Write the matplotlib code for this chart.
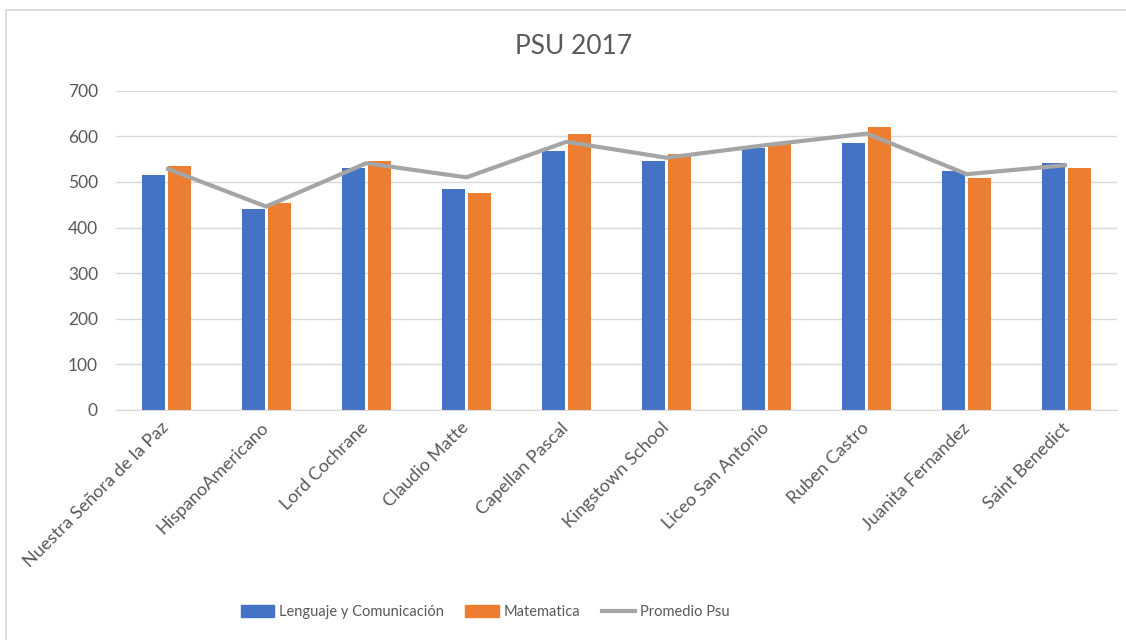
import numpy as np
import matplotlib.pyplot as plt
from matplotlib.patches import Rectangle
from matplotlib.lines import Line2D

colegios = ["Nuestra Señora de la Paz", "HispanoAmericano", "Lord Cochrane", "Claudio Matte",
            "Capellan Pascal", "Kingstown School", "Liceo San Antonio", "Ruben Castro",
            "Juanita Fernandez", "Saint Benedict"]
lenguaje = [516, 440, 530, 484, 567, 545, 574, 585, 523, 541]
matematica = [534, 454, 545, 476, 606, 561, 586, 621, 509, 530]
promedio = [530, 446, 541, 510, 588, 553, 581, 606, 517, 537]

AZUL = "#4472C4"
NARANJA = "#ED7D31"
GRIS = "#A5A5A5"
TEXTO = "#595959"
GRID = "#D9D9D9"

plt.rcParams["font.family"] = ["Lato", "DejaVu Sans"]

fig = plt.figure(figsize=(11.26, 6.4), dpi=100)
ax = fig.add_axes([116 / 1126, 1 - 410 / 640, 1001 / 1126, 319.3 / 640])

# marco del grafico
fig.patches.append(Rectangle((6 / 1126, -0.1), 1.2, 1 - 10 / 640 + 0.1, transform=fig.transFigure,
                             fill=False, edgecolor=GRID, linewidth=1.2))

x = np.arange(len(colegios))
ancho = 0.23
ax.bar(x - 0.13, lenguaje, ancho, color=AZUL, zorder=2)
ax.bar(x + 0.13, matematica, ancho, color=NARANJA, zorder=2)
ax.plot(x, promedio, color=GRIS, linewidth=3, zorder=3, solid_capstyle="butt")

ax.set_xlim(-0.5, len(colegios) - 0.5)
ax.set_ylim(0, 700)
ax.set_yticks(range(0, 701, 100))
ax.yaxis.grid(True, color=GRID, linewidth=1)
ax.set_axisbelow(True)

for s in ["top", "right", "left"]:
    ax.spines[s].set_visible(False)
ax.spines["bottom"].set_color(GRID)

ax.tick_params(axis="y", length=0, pad=13, labelsize=12.5, labelcolor=TEXTO)
ax.tick_params(axis="x", length=0, pad=11, labelsize=13, labelcolor=TEXTO)
ax.set_xticks(x)
ax.set_xticklabels(colegios, rotation=45, ha="right", va="center", rotation_mode="anchor")

fig.text(574 / 1126, 1 - 47 / 640, "PSU 2017", ha="center", va="center", fontsize=19, color=TEXTO)

handles = [Rectangle((0, 0), 1, 1, color=AZUL), Rectangle((0, 0), 1, 1, color=NARANJA),
           Line2D([0], [0], color=GRIS, linewidth=3)]
fig.legend(handles, ["Lenguaje y Comunicación", "Matematica", "Promedio Psu"],
           loc="center", bbox_to_anchor=(485 / 1126, 1 - 612 / 640), ncol=3, frameon=False,
           fontsize=10.5, labelcolor=TEXTO, handlelength=2.3, handleheight=0.8,
           handletextpad=0.3, columnspacing=1.5)

fig.savefig("out.png", dpi=100)
